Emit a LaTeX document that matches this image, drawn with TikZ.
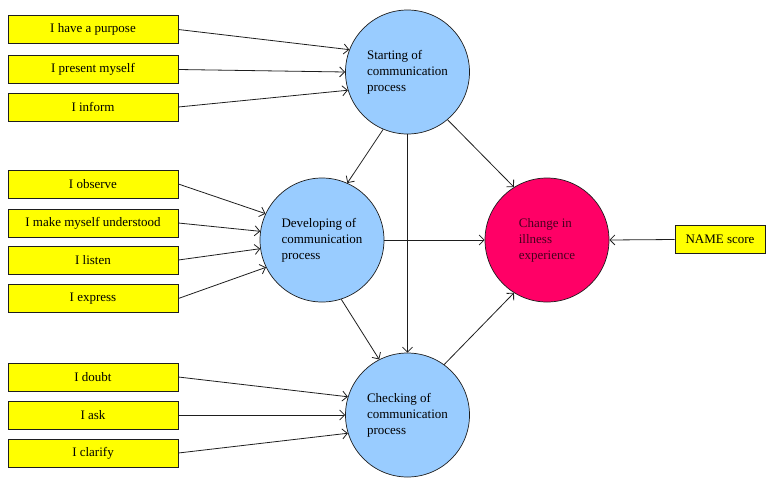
\documentclass[tikz,border=0pt]{standalone}
\usepackage{fontspec}
\usetikzlibrary{arrows.meta}
\setmainfont{Liberation Serif}
\definecolor{boxyellow}{RGB}{255,255,0}
\definecolor{circblue}{RGB}{153,204,255}
\definecolor{circred}{RGB}{255,0,102}
\definecolor{redtext}{RGB}{70,0,30}
\definecolor{edge}{RGB}{30,30,30}
\begin{document}
\begin{tikzpicture}[x=1pt,y=-1pt,
  itembox/.style={draw=edge,fill=boxyellow,line width=0.7pt,minimum width=170pt,minimum height=28pt,inner sep=0pt,font=\fontsize{13}{15}\selectfont},
  procnode/.style={circle,draw=edge,fill=circblue,line width=0.7pt,minimum size=124pt,inner sep=0pt,align=left,font=\fontsize{13}{16}\selectfont},
  link/.style={-{Straight Barb[length=5pt,width=10pt]},draw=edge,line width=0.8pt}]
\useasboundingbox (0,0) rectangle (773,485);
% boxes
\node[itembox] (b1) at (93,29.5) {I have a purpose};
\node[itembox] (b2) at (93,69.5) {I present myself};
\node[itembox] (b3) at (93,107) {I inform};
\node[itembox] (b4) at (93,184) {I observe};
\node[itembox] (b5) at (93,223) {I make myself understood};
\node[itembox] (b6) at (93,260) {I listen};
\node[itembox] (b7) at (93,298.5) {I express};
\node[itembox] (b8) at (93,377) {I doubt};
\node[itembox] (b9) at (93,415) {I ask};
\node[itembox] (b10) at (93,453) {I clarify};
\node[itembox,minimum width=90pt] (name) at (720,239.5) {NAME score};
% circles
\node[procnode] (start) at (407.5,72) {Starting of\\communication\\process};
\node[procnode] (dev) at (322,240) {Developing of\\communication\\process};
\node[procnode] (check) at (407.5,415) {Checking of\\communication\\process};
\node[procnode,fill=circred,text=redtext] (change) at (547,240) {Change in\\illness\\experience};
% connectors
\draw[link] (b1.east) -- (start.159);
\draw[link] (b2.east) -- (start.180);
\draw[link] (b3.east) -- (start.197);
\draw[link] (b4.east) -- (dev.155);
\draw[link] (b5.east) -- (dev.172);
\draw[link] (b6.east) -- (dev.188);
\draw[link] (b7.east) -- (dev.206);
\draw[link] (b8.east) -- (check.163);
\draw[link] (b9.east) -- (check.180);
\draw[link] (b10.east) -- (check.197);
\draw[link] (start.247) -- (dev.66);
\draw[link] (start.310) -- (change.122);
\draw[link] (start.270) -- (check.90);
\draw[link] (dev.east) -- (change.west);
\draw[link] (dev.288) -- (check.117);
\draw[link] (check.54) -- (change.238);
\draw[link] (name.west) -- (change.east);
\end{tikzpicture}
\end{document}
